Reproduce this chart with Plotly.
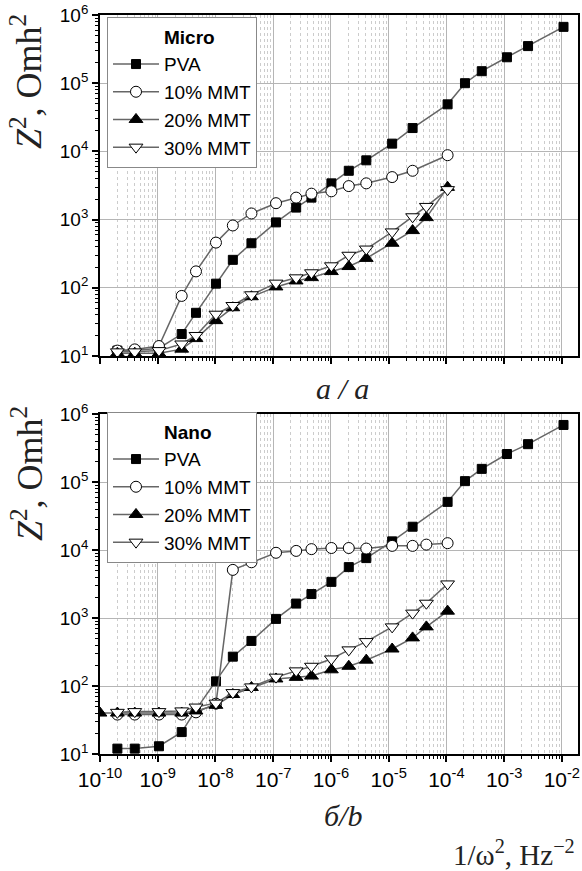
import plotly.graph_objects as go

# ---------------- data (x = 1/omega^2, Hz^-2 ; y = Z^2, Ohm^2) ----------------
# Micro panel
micro_pva_x = [2e-10, 4e-10, 1.05e-9, 2.6e-9, 4.6e-9, 1.02e-8, 2e-8, 4.2e-8, 1.12e-7, 2.5e-7, 4.6e-7,
               1.02e-6, 2.04e-6, 4.1e-6, 1.15e-5, 2.6e-5, 1.05e-4, 2.1e-4, 4.1e-4, 1.12e-3, 2.6e-3, 1.07e-2]
micro_pva_y = [12, 12, 13, 21, 43, 115, 257, 450, 910, 1500, 2100,
               3400, 5200, 7400, 13000, 22000, 49000, 100000, 150000, 240000, 350000, 670000]

micro_10_x = [2e-10, 4e-10, 1.05e-9, 2.6e-9, 4.6e-9, 1.02e-8, 2e-8, 4.2e-8, 1.12e-7, 2.5e-7, 4.6e-7,
              1.02e-6, 2.04e-6, 4.1e-6, 1.15e-5, 2.6e-5, 1.05e-4]
micro_10_y = [12, 12.5, 14, 76, 174, 460, 820, 1230, 1740, 2100, 2400,
              2600, 3100, 3400, 4200, 5200, 8800]

micro_20_x = [2e-10, 4e-10, 1.05e-9, 2.6e-9, 4.6e-9, 1.02e-8, 2e-8, 4.2e-8, 1.12e-7, 2.5e-7, 4.6e-7,
              1.02e-6, 2.04e-6, 4.1e-6, 1.15e-5, 2.6e-5, 4.5e-5, 1.05e-4]
micro_20_y = [11, 11, 11, 12.6, 18, 33, 51, 74, 103, 126, 141,
              173, 205, 270, 450, 690, 1070, 2970]

micro_30_x = [2e-10, 4e-10, 1.05e-9, 2.6e-9, 4.6e-9, 1.02e-8, 2e-8, 4.2e-8, 1.12e-7, 2.5e-7, 4.6e-7,
              1.02e-6, 2.04e-6, 4.1e-6, 1.15e-5, 2.6e-5, 4.5e-5, 1.05e-4]
micro_30_y = [11.5, 11.5, 12, 15, 20, 41, 55, 79, 117, 140, 166,
              210, 300, 370, 660, 1100, 1560, 2750]

# Nano panel
nano_pva_x = [2e-10, 4e-10, 1.05e-9, 2.6e-9, 4.6e-9, 1.02e-8, 2e-8, 4.2e-8, 1.12e-7, 2.5e-7, 4.6e-7,
              1.02e-6, 2.04e-6, 4.1e-6, 1.15e-5, 2.6e-5, 1.05e-4, 2.1e-4, 4.1e-4, 1.12e-3, 2.6e-3, 1.07e-2]
nano_pva_y = [12, 12, 13, 21, 45, 117, 270, 460, 970, 1630, 2250,
              3400, 5600, 7600, 13400, 22000, 51000, 103000, 156000, 258000, 360000, 690000]

nano_10_x = [2e-10, 4e-10, 1.05e-9, 2.6e-9, 4.6e-9, 1.02e-8, 2e-8, 4.2e-8, 1.12e-7, 2.5e-7, 4.6e-7,
             1.02e-6, 2.04e-6, 4.1e-6, 1.15e-5, 2.6e-5, 4.5e-5, 1.05e-4]
nano_10_y = [38, 38, 38, 38, 41, 55, 5100, 6600, 9100, 9700, 10300,
             10700, 10700, 10500, 11500, 11500, 12000, 12600]

nano_20_x = [1e-10, 2e-10, 4e-10, 1.05e-9, 2.6e-9, 4.6e-9, 1.02e-8, 2e-8, 4.2e-8, 1.12e-7, 2.5e-7, 4.6e-7,
             1.02e-6, 2.04e-6, 4.1e-6, 1.15e-5, 2.6e-5, 4.5e-5, 1.05e-4]
nano_20_y = [40, 40, 40, 40, 40, 43, 52, 75, 95, 127, 134, 140,
             173, 195, 240, 350, 510, 740, 1260]

nano_30_x = [2e-10, 4e-10, 1.05e-9, 2.6e-9, 4.6e-9, 1.02e-8, 2e-8, 4.2e-8, 1.12e-7, 2.5e-7, 4.6e-7,
             1.02e-6, 2.04e-6, 4.1e-6, 1.15e-5, 2.6e-5, 4.5e-5, 1.05e-4]
nano_30_y = [41, 42, 42, 43, 49, 56, 80, 97, 135, 167, 195,
             250, 340, 450, 740, 1180, 1650, 3170]

series_names = ["PVA", "10% MMT", "20% MMT", "30% MMT"]
panel_titles = ["Micro", "Nano"]

# tick labels
x_tick_vals = [1e-10, 1e-9, 1e-8, 1e-7, 1e-6, 1e-5, 1e-4, 1e-3, 1e-2]
x_tick_text = ["10<sup>-10</sup>", "10<sup>-9</sup>", "10<sup>-8</sup>", "10<sup>-7</sup>", "10<sup>-6</sup>",
               "10<sup>-5</sup>", "10<sup>-4</sup>", "10<sup>-3</sup>", "10<sup>-2</sup>"]
y_tick_vals = [1e1, 1e2, 1e3, 1e4, 1e5, 1e6]
y_tick_text = ["10<sup>1</sup>", "10<sup>2</sup>", "10<sup>3</sup>", "10<sup>4</sup>", "10<sup>5</sup>",
               "10<sup>6</sup>"]

# ---------------- styling ----------------
SANS = "Liberation Sans, Arial, sans-serif"
SERIF = "Liberation Serif, Times New Roman, serif"
LINE_COLOR = "#666666"

marker_styles = [
    dict(symbol="square", size=9, color="black", line=dict(color="black", width=1)),
    dict(symbol="circle", size=11, color="white", line=dict(color="black", width=1)),
    dict(symbol="triangle-up", size=12, color="black", line=dict(color="black", width=1)),
    dict(symbol="triangle-down", size=12, color="white", line=dict(color="black", width=1)),
]

fig = go.Figure()

micro = [(micro_pva_x, micro_pva_y), (micro_10_x, micro_10_y), (micro_20_x, micro_20_y), (micro_30_x, micro_30_y)]
nano = [(nano_pva_x, nano_pva_y), (nano_10_x, nano_10_y), (nano_20_x, nano_20_y), (nano_30_x, nano_30_y)]

for panel, (data, xa, ya, lg) in enumerate([(micro, "x", "y", "legend"), (nano, "x2", "y2", "legend2")]):
    # legend heading entry (no visible symbol)
    fig.add_trace(go.Scatter(
        x=[None], y=[None], mode="markers", name="<b>%s</b>" % panel_titles[panel],
        marker=dict(color="rgba(0,0,0,0)", size=1, line=dict(width=0)),
        xaxis=xa, yaxis=ya, legend=lg, hoverinfo="skip"))
    for i, (xs, ys) in enumerate(data):
        fig.add_trace(go.Scatter(
            x=xs, y=ys, mode="lines+markers", name=series_names[i],
            line=dict(color=LINE_COLOR, width=1.5), marker=marker_styles[i],
            xaxis=xa, yaxis=ya, legend=lg))

# ---------------- layout ----------------
L, R, T, B = 100, 4, 15, 117
W, H = 582, 871
PH = H - T - B  # plot height in px


def py(p):  # pixel y -> paper y
    return (H - B - p) / PH


def px(p):  # pixel x -> paper x
    return (p - L) / (W - L - R)


xaxis_common = dict(
    type="log", range=[-10, -1.72], tickvals=x_tick_vals, ticktext=x_tick_text, automargin=False,
    showline=True, linecolor="black", linewidth=1.8, mirror=True,
    ticks="outside", ticklen=6, tickwidth=1.5, tickcolor="black",
    showgrid=True, gridcolor="#b5b5b5", gridwidth=1,
    minor=dict(ticks="outside", ticklen=3, tickwidth=1, tickcolor="black", dtick="D1",
               showgrid=True, gridcolor="#cccccc", griddash="dot", gridwidth=1),
    tickfont=dict(family=SANS, size=21, color="black"), zeroline=False,
)
yaxis_common = dict(
    type="log", range=[1, 6], tickvals=y_tick_vals, ticktext=y_tick_text, automargin=False,
    showline=True, linecolor="black", linewidth=1.8, mirror=True,
    ticks="outside", ticklen=6, tickwidth=1.5, tickcolor="black",
    showgrid=True, gridcolor="#b5b5b5", gridwidth=1,
    minor=dict(ticks="outside", ticklen=3, tickwidth=1, tickcolor="black", dtick="D1", showgrid=False),
    tickfont=dict(family=SANS, size=19, color="black"), zeroline=False,
)

top_dom = [py(356), 1.0]
bot_dom = [0.0, py(414)]

legend_common = dict(
    bgcolor="white", bordercolor="#888888", borderwidth=1,
    font=dict(family=SANS, size=19, color="black"),
    xanchor="left", yanchor="top", tracegroupgap=0, itemwidth=46,
)

fig.update_layout(
    template="none",
    width=W, height=H, margin=dict(l=L, r=R, t=T, b=B, autoexpand=False),
    paper_bgcolor="white", plot_bgcolor="white",
    xaxis=dict(**xaxis_common, domain=[0, 1], anchor="y", showticklabels=False),
    yaxis=dict(**yaxis_common, domain=top_dom, anchor="x"),
    xaxis2=dict(**xaxis_common, domain=[0, 1], anchor="y2"),
    yaxis2=dict(**yaxis_common, domain=bot_dom, anchor="x2"),
    legend=dict(**legend_common, x=px(107), y=py(16.5)),
    legend2=dict(**legend_common, x=px(107), y=py(411.5)),
    showlegend=True,
)

ytitle = "<i>Z</i><sup>2</sup>, Omh<sup>2</sup>"
for yc in (py(82), py(474)):
    fig.add_annotation(xref="paper", yref="paper", showarrow=False, text=ytitle,
                       x=px(27), y=yc, xanchor="center", yanchor="middle", textangle=-90,
                       font=dict(family=SERIF, size=36, color="#222"))

fig.add_annotation(xref="paper", yref="paper", showarrow=False, text="<i>a / a</i>",
                   x=px(342), y=py(388), xanchor="center", yanchor="middle",
                   font=dict(family=SERIF, size=30, color="#222"))
fig.add_annotation(xref="paper", yref="paper", showarrow=False, text="<i>б/b</i>",
                   x=px(343), y=py(815), xanchor="center", yanchor="middle",
                   font=dict(family=SERIF, size=30, color="#222"))
fig.add_annotation(xref="paper", yref="paper", showarrow=False,
                   text="1/ω<sup>2</sup>, Hz<sup>−2</sup>",
                   x=px(577), y=py(853), xanchor="right", yanchor="middle",
                   font=dict(family=SERIF, size=29, color="#222"))

fig.write_html("out.html", config={"displayModeBar": False},
               post_script="document.body.style.margin='0';document.body.style.overflow='hidden';")
